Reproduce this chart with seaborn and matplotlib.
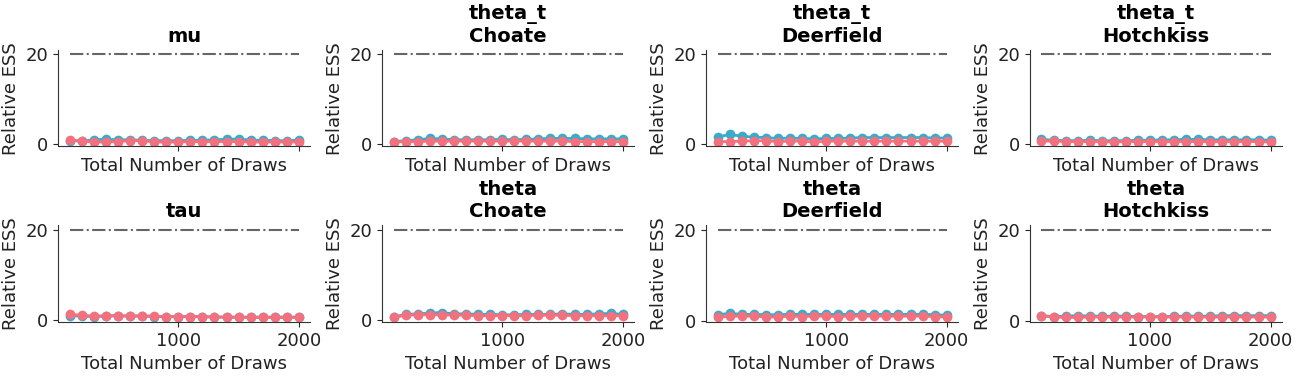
import numpy as np
import pandas as pd
import matplotlib
matplotlib.use("Agg")
import matplotlib.pyplot as plt
import seaborn as sns

# Draw counts (x axis)
draws = [100, 200, 300, 400, 500, 600, 700, 800, 900, 1000,
         1100, 1200, 1300, 1400, 1500, 1600, 1700, 1800, 1900, 2000]

titles = ["mu", "theta_t\nChoate", "theta_t\nDeerfield", "theta_t\nHotchkiss",
          "tau", "theta\nChoate", "theta\nDeerfield", "theta\nHotchkiss"]

# relative ESS, bulk and tail
bulk_mu = [0.8, 0.7, 1.0, 1.1, 1.0, 1.0, 0.9, 0.8, 0.8, 0.8, 0.9, 0.9, 1.0, 1.1, 1.2, 0.9, 0.9, 0.8, 0.8, 0.9]
tail_mu = [1.0, 0.7, 0.5, 0.5, 0.6, 0.8, 0.8, 0.5, 0.5, 0.5, 0.6, 0.6, 0.6, 0.6, 0.6, 0.5, 0.5, 0.5, 0.5, 0.5]
bulk_tt_choate = [0.6, 0.8, 1.0, 1.3, 1.2, 1.0, 1.0, 1.0, 1.0, 1.1, 1.0, 1.1, 1.2, 1.3, 1.3, 1.3, 1.2, 1.2, 1.2, 1.2]
tail_tt_choate = [0.5, 0.6, 0.6, 0.7, 0.7, 0.7, 0.7, 0.7, 0.7, 0.7, 0.7, 0.7, 0.7, 0.7, 0.7, 0.6, 0.6, 0.6, 0.6, 0.6]
bulk_tt_deerfield = [1.5, 2.1, 1.7, 1.5, 1.4, 1.2, 1.3, 1.2, 1.1, 1.2, 1.2, 1.3, 1.4, 1.4, 1.4, 1.4, 1.4, 1.4, 1.3, 1.3]
tail_tt_deerfield = [0.5, 0.5, 0.6, 0.7, 0.7, 0.5, 0.6, 0.6, 0.4, 0.6, 0.6, 0.6, 0.6, 0.6, 0.6, 0.6, 0.6, 0.6, 0.6, 0.6]
bulk_tt_hotchkiss = [1.1, 0.9, 0.8, 0.8, 0.9, 0.8, 0.8, 0.8, 0.9, 0.9, 1.0, 1.0, 1.1, 1.1, 1.0, 1.0, 1.0, 1.0, 1.0, 0.9]
tail_tt_hotchkiss = [0.7, 0.7, 0.6, 0.6, 0.6, 0.6, 0.5, 0.6, 0.6, 0.6, 0.6, 0.6, 0.6, 0.6, 0.6, 0.6, 0.6, 0.6, 0.6, 0.5]
bulk_tau = [0.9, 0.8, 0.7, 0.8, 0.9, 0.8, 0.8, 0.7, 0.7, 0.7, 0.7, 0.7, 0.6, 0.6, 0.6, 0.6, 0.6, 0.6, 0.6, 0.6]
tail_tau = [1.2, 1.0, 0.8, 0.9, 0.9, 0.8, 0.9, 0.8, 0.7, 0.7, 0.7, 0.7, 0.6, 0.6, 0.5, 0.5, 0.5, 0.5, 0.5, 0.5]
bulk_th_choate = [0.6, 1.2, 1.3, 1.5, 1.6, 1.3, 1.3, 1.2, 1.2, 1.1, 1.1, 1.2, 1.2, 1.2, 1.3, 1.2, 1.2, 1.3, 1.4, 1.2]
tail_th_choate = [0.5, 1.0, 1.1, 1.1, 1.1, 1.0, 1.0, 0.9, 0.9, 0.9, 0.9, 0.9, 1.0, 1.0, 1.0, 0.9, 0.9, 0.9, 0.9, 0.9]
bulk_th_deerfield = [1.3, 1.6, 1.4, 1.4, 1.3, 1.3, 1.4, 1.4, 1.4, 1.4, 1.4, 1.4, 1.4, 1.4, 1.4, 1.4, 1.4, 1.4, 1.3, 1.2]
tail_th_deerfield = [0.7, 1.0, 1.0, 1.0, 0.8, 0.8, 1.0, 0.9, 1.0, 1.0, 0.9, 1.0, 1.0, 1.0, 1.0, 1.0, 1.0, 1.0, 0.9, 0.8]
bulk_th_hotchkiss = [1.1, 0.9, 1.0, 1.1, 1.0, 1.0, 1.0, 1.0, 0.9, 0.9, 0.9, 1.0, 1.0, 1.0, 1.0, 1.1, 1.1, 1.1, 1.1, 1.1]
tail_th_hotchkiss = [1.1, 0.8, 0.7, 0.7, 0.8, 0.8, 0.8, 0.8, 0.8, 0.8, 0.8, 0.8, 0.8, 0.8, 0.8, 0.8, 0.8, 0.8, 0.8, 0.8]

bulk_all = [bulk_mu, bulk_tt_choate, bulk_tt_deerfield, bulk_tt_hotchkiss,
            bulk_tau, bulk_th_choate, bulk_th_deerfield, bulk_th_hotchkiss]
tail_all = [tail_mu, tail_tt_choate, tail_tt_deerfield, tail_tt_hotchkiss,
            tail_tau, tail_th_choate, tail_th_deerfield, tail_th_hotchkiss]

min_ess = 20  # reference line

sns.set_style("ticks")
plt.rcParams['font.family'] = ['DejaVu Sans']

fig, axes = plt.subplots(2, 4, figsize=(12.95, 3.76), dpi=100, sharex=True)
plt.subplots_adjust(left=0.045, right=0.99, bottom=0.144, top=0.867,
                    wspace=0.285, hspace=0.82)

blue = "#3AABC9"
pink = "#F3717F"

for ax, title, bulk, tail in zip(axes.flat, titles, bulk_all, tail_all):
    df = pd.DataFrame({"draws": draws * 2,
                       "ess": bulk + tail,
                       "kind": ["bulk"] * len(draws) + ["tail"] * len(draws)})
    sns.lineplot(data=df, x="draws", y="ess", hue="kind",
                 palette={"bulk": blue, "tail": pink},
                 marker="o", markersize=7, markeredgewidth=0,
                 linewidth=2, legend=False, ax=ax)
    ax.hlines(min_ess, draws[0], draws[-1], color="#666666",
              linestyle="-.", linewidth=1.5)
    ax.set_title(title, fontsize=14, fontweight="bold", color="black")
    ax.set_xlabel("Total Number of Draws", fontsize=13, color="#222222")
    ax.set_ylabel("Relative ESS", fontsize=13, color="#222222")
    ax.set_yticks([0, 20])
    ax.set_xticks([1000, 2000])
    ax.tick_params(labelsize=13, labelcolor="#222222")
    for sp in ["left", "bottom"]:
        ax.spines[sp].set_color("#333333")
    sns.despine(ax=ax)

for ax in axes[0]:
    ax.tick_params(labelbottom=False)
    ax.xaxis.label.set_visible(True)

plt.savefig("out.png", dpi=100)
